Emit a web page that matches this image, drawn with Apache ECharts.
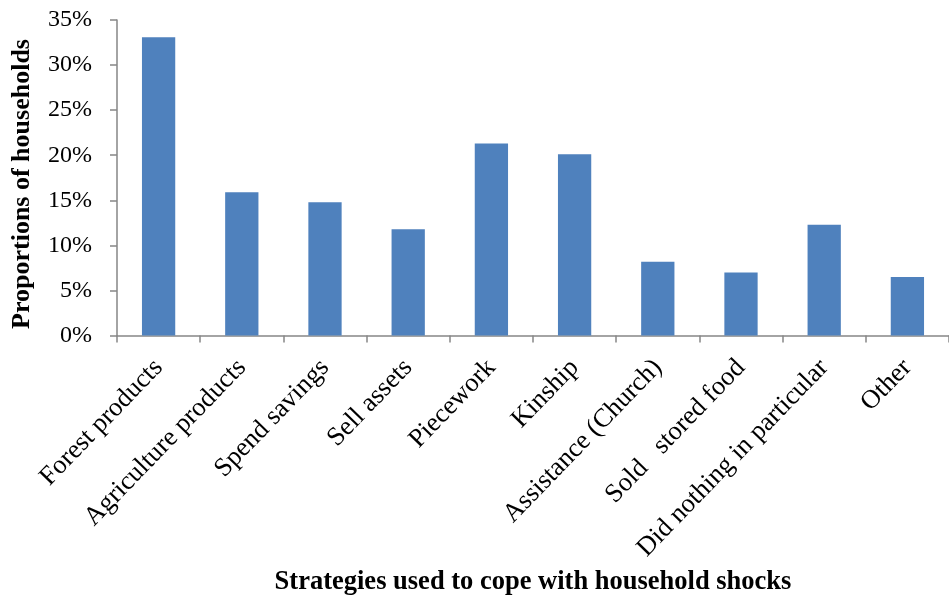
<!DOCTYPE html>
<html>
<head>
<meta charset="utf-8">
<script src="https://cdn.jsdelivr.net/npm/echarts@6/dist/echarts.min.js"></script>
<style>
html,body{margin:0;padding:0;background:#fff;}
#chart{width:949px;height:601px;}
</style>
</head>
<body>
<div id="chart"></div>
<script>
var categories = ["Forest products", "Agriculture products", "Spend savings", "Sell assets", "Piecework", "Kinship", "Assistance (Church)", "Sold   stored food", "Did nothing in particular", "Other"];
var values = [33.1, 15.9, 14.8, 11.8, 21.3, 20.1, 8.2, 7.0, 12.3, 6.5];
var yTicks = [0, 5, 10, 15, 20, 25, 30, 35];
var xTitle = "Strategies used to cope with household shocks";
var yTitle = "Proportions of households";

var font = "'Liberation Serif', 'Times New Roman', serif";
var chart = echarts.init(document.getElementById('chart'), null, {renderer: 'canvas'});
chart.setOption({
  animation: false,
  backgroundColor: '#ffffff',
  grid: {left: 117, top: 20, width: 842, height: 317, containLabel: false},
  graphic: [{
    type: 'text',
    x: 22,
    y: 184,
    rotation: Math.PI / 2,
    style: {
      text: yTitle,
      fontFamily: font,
      fontSize: 26,
      fontWeight: 'bold',
      fill: '#000',
      align: 'center',
      verticalAlign: 'middle'
    }
  }],
  xAxis: {
    type: 'category',
    data: categories,
    name: xTitle,
    nameLocation: 'middle',
    nameGap: 233,
    nameTextStyle: {fontFamily: font, fontSize: 26.5, fontWeight: 'bold', color: '#000'},
    axisLine: {lineStyle: {color: '#868686', width: 1.5}},
    axisTick: {show: true, length: 7, lineStyle: {color: '#868686', width: 1.5}},
    axisLabel: {rotate: 46, margin: 28, fontFamily: font, fontSize: 26.5, color: '#000', interval: 0}
  },
  yAxis: {
    type: 'value',
    min: yTicks[0],
    max: yTicks[yTicks.length - 1],
    interval: 5,
    axisLine: {show: true, lineStyle: {color: '#868686', width: 1.5}},
    axisTick: {show: true, length: 7, lineStyle: {color: '#868686', width: 1.5}},
    splitLine: {show: false},
    axisLabel: {margin: 25, fontFamily: font, fontSize: 24, color: '#000', formatter: '{value}%'}
  },
  series: [{
    type: 'bar',
    data: values,
    barWidth: '40%',
    itemStyle: {color: '#4F81BD'}
  }]
});
</script>
</body>
</html>
